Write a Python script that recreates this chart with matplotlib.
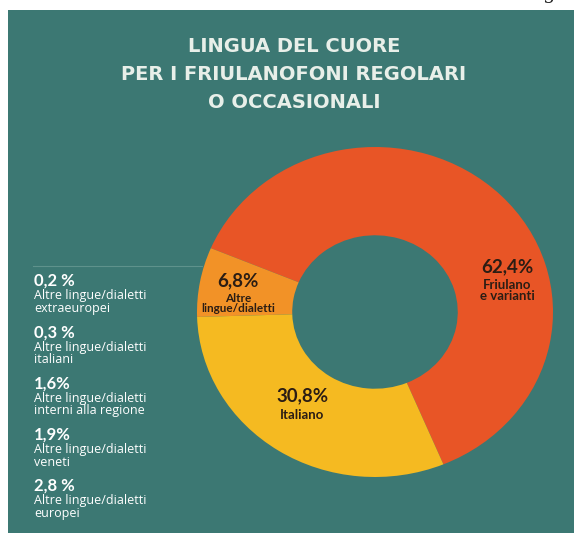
import matplotlib
matplotlib.use("Agg")
import matplotlib.pyplot as plt
from matplotlib.patches import Rectangle
import numpy as np

# ---- data ----
title_lines = ["LINGUA DEL CUORE", "PER I FRIULANOFONI REGOLARI", "O OCCASIONALI"]
donut_labels = ["Friulano\ne varianti", "Altre\nlingue/dialetti", "Italiano"]
donut_pct_text = ["62,4%", "6,8%", "30,8%"]
donut_values = [62.4, 6.8, 30.8]
side_pct_text = ["0,2 %", "0,3 %", "1,6%", "1,9%", "2,8 %"]
side_labels = ["Altre lingue/dialetti\nextraeuropei",
               "Altre lingue/dialetti\nitaliani",
               "Altre lingue/dialetti\ninterni alla regione",
               "Altre lingue/dialetti\nveneti",
               "Altre lingue/dialetti\neuropei"]

# ---- style ----
W, H = 574, 533
TEAL = "#3c7873"
COLORS = ["#e85526", "#f29227", "#f5ba21"]
TXT_DARK = "#2b1d14"
TITLE_COL = "#e8efe9"

fig = plt.figure(figsize=(W / 100, H / 100), dpi=100)
fig.patch.set_facecolor("white")

def fx(px):
    return px / W

def fy(py):
    return 1 - py / H

# teal panel
fig.patches.append(Rectangle((fx(8), 0), 1 - fx(8), fy(10), transform=fig.transFigure,
                             facecolor=TEAL, edgecolor="none", zorder=-5))
# cropped letter at top right
fig.text(fx(549), fy(-1), "g", fontsize=14, color="#222222", ha="center", va="baseline",
         family="DejaVu Serif")

# title
for i, line in enumerate(title_lines):
    fig.text(fx(294), fy(46 + 28.2 * i), line, ha="center", va="center", fontsize=14,
             color=TITLE_COL, family="DejaVu Sans", fontweight="bold")

# donut
cx, cy, rx, ry = 375, 312, 178, 165
ax = fig.add_axes([fx(cx - rx), fy(cy + ry), (2 * rx) / W, (2 * ry) / H], zorder=2)
ax.pie(donut_values, colors=COLORS, startangle=-67.4, counterclock=True,
       wedgeprops=dict(width=0.535, edgecolor="none"), radius=1)
ax.set_aspect("auto")
ax.set_xlim(-1, 1)
ax.set_ylim(-1, 1)
ax.axis("off")

label_pos = [(0.745, 0.275), (-0.77, 0.19), (-0.41, -0.51)]
label_size = [9.5, 8.5, 9.5]
for (x, y), p, lab, s in zip(label_pos, donut_pct_text, donut_labels, label_size):
    ax.text(x, y, p, ha="center", va="center", fontsize=13.5, fontweight="bold",
            color=TXT_DARK, family="Lato")
    ax.text(x, y - 0.075, lab, ha="center", va="top", fontsize=s, fontweight="bold",
            color=TXT_DARK, family="Lato", linespacing=0.9)

# separator line
fig.add_artist(plt.Line2D([fx(33), fx(202)], [fy(266), fy(266)], color="#5f928c",
                          lw=0.8, transform=fig.transFigure, zorder=1))

# side legend
for i, (p, lab) in enumerate(zip(side_pct_text, side_labels)):
    gy = 281 + 51.2 * i
    fig.text(fx(34), fy(gy), p, ha="left", va="center", fontsize=12, fontweight="bold",
             color="white", family="Lato")
    fig.text(fx(34), fy(gy + 8.5), lab, ha="left", va="top", fontsize=9,
             color="white", family="Open Sans", linespacing=0.95)

fig.savefig("out.png", dpi=100, facecolor=fig.get_facecolor())
